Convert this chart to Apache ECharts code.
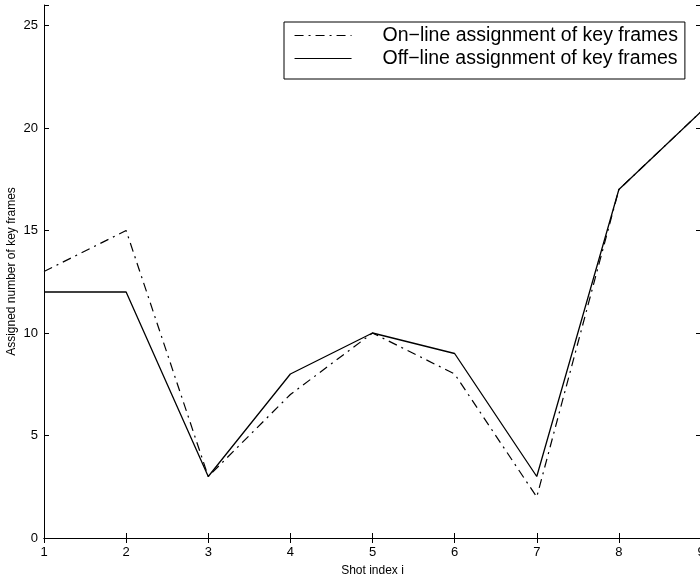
<!DOCTYPE html>
<html>
<head>
<meta charset="utf-8">
<script src="https://cdn.jsdelivr.net/npm/echarts@6/dist/echarts.min.js"></script>
<style>html,body{margin:0;padding:0;background:#fff;}#c{width:700px;height:584px;}</style>
</head>
<body>
<div id="c"></div>
<script>
const shotIndex = [1, 2, 3, 4, 5, 6, 7, 8, 9];
const onlineFrames = [13, 15, 3, 7, 10, 8, 2, 17, 20.8];
const offlineFrames = [12, 12, 3, 8, 10, 9, 3, 17, 20.8];
const xTicks = [1, 2, 3, 4, 5, 6, 7, 8, 9];
const yTicks = [0, 5, 10, 15, 20, 25];
const seriesNames = ['On\u2212line assignment of key frames', 'Off\u2212line assignment of key frames'];

const chart = echarts.init(document.getElementById('c'), null, {renderer: 'canvas'});
const font = 'Liberation Sans, Arial, Helvetica, sans-serif';
const axisCommon = {
  type: 'value',
  axisLine: {show: true, lineStyle: {color: '#000', width: 1}},
  axisTick: {show: true, inside: true, length: 5, lineStyle: {color: '#000'}},
  splitLine: {show: false},
  axisLabel: {color: '#000', fontSize: 13, fontFamily: font}
};
chart.setOption({
  animation: false,
  backgroundColor: '#fff',
  grid: {left: 44, top: 5, width: 657, height: 533, containLabel: false, outerBoundsMode: 'none'},
  legend: {
    show: true,
    orient: 'vertical',
    left: 284, top: 22,
    padding: [3, 7, 10, 10],
    borderColor: '#000', borderWidth: 1,
    backgroundColor: '#fff',
    itemWidth: 57, itemHeight: 14, itemGap: 2,
    itemStyle: {opacity: 0},
    lineStyle: {width: 1.1},
    textStyle: {color: '#000', fontSize: 19.5, fontFamily: font, padding: [0, 0, 0, 26], lineHeight: 21},
    data: seriesNames
  },
  xAxis: [
    Object.assign({}, axisCommon, {
      min: 1, max: 9, interval: 1, position: 'bottom',
      name: 'Shot index i', nameLocation: 'middle', nameGap: 27,
      nameTextStyle: {color: '#000', fontSize: 12, fontFamily: font},
      axisLabel: {color: '#000', fontSize: 13, fontFamily: font, margin: 8,
        formatter: v => xTicks.includes(v) ? String(v) : ''}
    }),
    Object.assign({}, axisCommon, {
      min: 1, max: 9, interval: 1, position: 'top',
      axisLabel: {show: false}
    })
  ],
  yAxis: [
    Object.assign({}, axisCommon, {
      min: 0, max: 26, interval: 5, position: 'left',
      name: 'Assigned number of key frames', nameLocation: 'middle', nameGap: 26,
      nameMoveOverlap: false,
      nameTextStyle: {color: '#000', fontSize: 12, fontFamily: font},
      axisLabel: {color: '#000', fontSize: 13, fontFamily: font, margin: 6,
        formatter: v => yTicks.includes(v) ? String(v) : ''}
    }),
    Object.assign({}, axisCommon, {
      min: 0, max: 26, interval: 5, position: 'right',
      axisLabel: {show: false}
    })
  ],
  series: [
    {
      name: seriesNames[0], type: 'line', xAxisIndex: 0, yAxisIndex: 0,
      data: shotIndex.map((x, i) => [x, onlineFrames[i]]),
      showSymbol: false, symbol: 'none',
      lineStyle: {color: '#000', width: 1.2, type: [9, 5, 2, 5]},
      itemStyle: {color: '#000'}
    },
    {
      name: seriesNames[1], type: 'line', xAxisIndex: 0, yAxisIndex: 0,
      data: shotIndex.map((x, i) => [x, offlineFrames[i]]),
      showSymbol: false, symbol: 'none',
      lineStyle: {color: '#000', width: 1.3, type: 'solid'},
      itemStyle: {color: '#000'}
    }
  ]
});
</script>
</body>
</html>
